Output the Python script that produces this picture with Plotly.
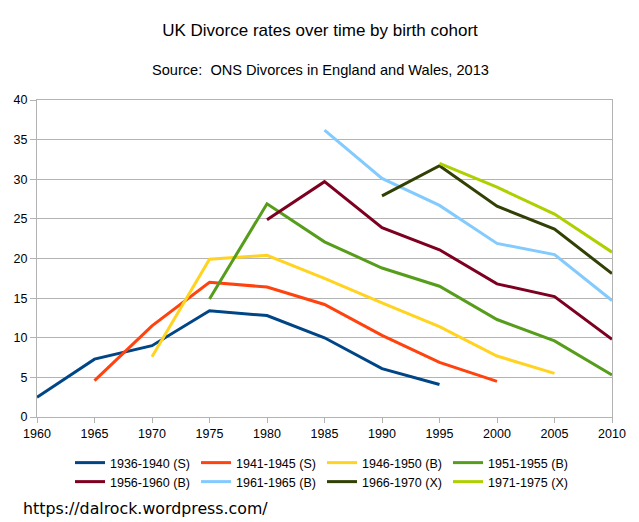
import plotly.graph_objects as go

years = [1960, 1965, 1970, 1975, 1980, 1985, 1990, 1995, 2000, 2005, 2010]

cohorts = ["1936-1940 (S)", "1941-1945 (S)", "1946-1950 (B)", "1951-1955 (B)",
           "1956-1960 (B)", "1961-1965 (B)", "1966-1970 (X)", "1971-1975 (X)"]

c1936 = [2.5, 7.3, 9.0, 13.4, 12.8, 10.0, 6.1, 4.1, None, None, None]
c1941 = [None, 4.6, 11.5, 17.0, 16.4, 14.2, 10.3, 6.9, 4.5, None, None]
c1946 = [None, None, 7.6, 19.9, 20.4, 17.5, 14.4, 11.4, 7.7, 5.5, None]
c1951 = [None, None, None, 14.9, 26.9, 22.1, 18.8, 16.5, 12.3, 9.6, 5.3]
c1956 = [None, None, None, None, 24.9, 29.7, 23.9, 21.1, 16.8, 15.2, 9.8]
c1961 = [None, None, None, None, None, 36.2, 30.1, 26.7, 21.9, 20.5, 14.7]
c1966 = [None, None, None, None, None, None, 27.9, 31.7, 26.6, 23.7, 18.1]
c1971 = [None, None, None, None, None, None, None, 32.0, 29.0, 25.6, 20.8]

series = [c1936, c1941, c1946, c1951, c1956, c1961, c1966, c1971]
colors = ["#004586", "#ff420e", "#ffd320", "#579d1c",
          "#7e0021", "#83caff", "#314004", "#aecf00"]

FONT = "Liberation Sans, Arial, sans-serif"
FS = 12.5

# page has an 8px body margin; figure is sized / offset to compensate
W, H = 631, 514
L, R, T, B = 29, 27, 92, 105
PW, PH = W - L - R, H - T - B


def px(xf):
    return (xf - L) / PW


def py(yf):
    return (T + PH - yf) / PH


fig = go.Figure()
for i, (name, vals, col) in enumerate(zip(cohorts, series, colors)):
    fig.add_trace(go.Scatter(x=years, y=vals, name=name, mode="lines",
                             line=dict(color=col, width=3), connectgaps=False,
                             legend="legend" if i < 4 else "legend2"))

leg_common = dict(orientation="h", xanchor="left", yanchor="middle",
                  entrywidth=81, entrywidthmode="pixels",
                  font=dict(family=FONT, size=FS, color="#000000"),
                  itemwidth=30, bgcolor="rgba(0,0,0,0)")

fig.update_layout(
    width=W, height=H,
    margin=dict(l=L, r=R, t=T, b=B, autoexpand=False),
    paper_bgcolor="white", plot_bgcolor="white",
    font=dict(family=FONT, size=FS, color="#000000"),
    title=dict(text="UK Divorce rates over time by birth cohort",
               x=312 / W, xref="container", y=1 - 22 / H, yref="container",
               xanchor="center", yanchor="middle",
               font=dict(family=FONT, size=17, color="#000000")),
    showlegend=True,
    legend=dict(x=px(62), y=py(455), **leg_common),
    legend2=dict(x=px(62), y=py(474), **leg_common),
    annotations=[
        dict(text="Source:  ONS Divorces in England and Wales, 2013",
             xref="paper", yref="paper", x=px(312), y=py(62),
             xanchor="center", yanchor="middle", showarrow=False,
             font=dict(family=FONT, size=14.6, color="#000000")),
        dict(text="https://dalrock.wordpress.com/",
             xref="paper", yref="paper", x=px(13), y=py(500),
             xanchor="left", yanchor="middle", showarrow=False,
             font=dict(family="DejaVu Sans", size=15.8, color="#000000")),
    ],
)

fig.update_xaxes(range=[1960, 2010], tick0=1960, dtick=5, showgrid=False,
                 showline=True, linecolor="#b3b3b3", linewidth=1, mirror=True,
                 ticks="outside", ticklen=5, tickcolor="#b3b3b3", automargin=False,
                 tickfont=dict(family=FONT, size=FS, color="#000000"), zeroline=False)
fig.update_yaxes(range=[0, 40], tick0=0, dtick=5, showgrid=True, gridcolor="#b3b3b3",
                 gridwidth=1, showline=True, linecolor="#b3b3b3", linewidth=1, mirror=True,
                 ticks="outside", ticklen=6, tickcolor="#b3b3b3", automargin=False,
                 tickfont=dict(family=FONT, size=FS, color="#000000"), zeroline=False)

fig.write_html("out.html")
